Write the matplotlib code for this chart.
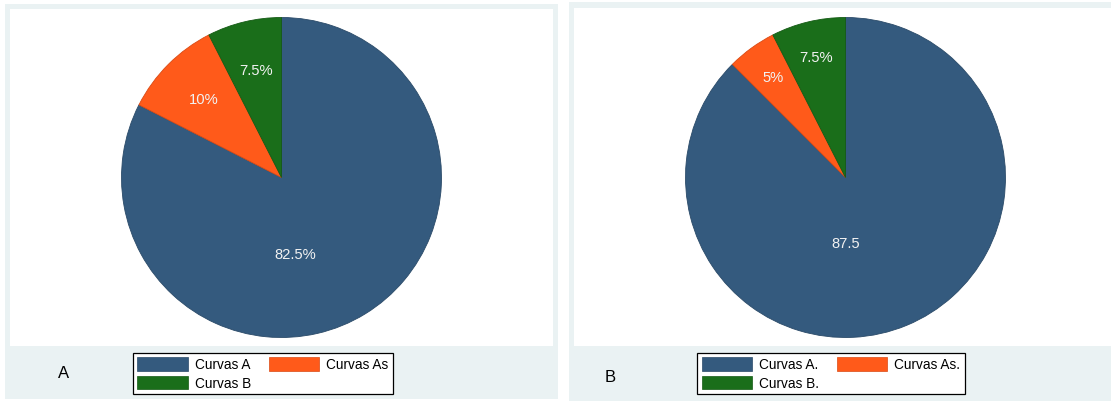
import numpy as np
import matplotlib
matplotlib.use("Agg")
import matplotlib.pyplot as plt
from matplotlib.patches import Rectangle, Patch

plt.rcParams['font.family'] = ['Liberation Sans', 'DejaVu Sans']

# ---- data ----
categories_A = ["Curvas A", "Curvas As", "Curvas B"]
values_A = [82.5, 10, 7.5]
slice_labels_A = ["82.5%", "10%", "7.5%"]

categories_B = ["Curvas A.", "Curvas As.", "Curvas B."]
values_B = [87.5, 5, 7.5]
slice_labels_B = ["87.5", "5%", "7.5%"]

panel_titles = ["A", "B"]

colors = ["#345a7e", "#ff5a1a", "#1a6e1a"]
edge_colors = ["#2a4a68", "#d94a14", "#145a14"]
BG = "#eaf2f3"

W, H = 1111, 402
fig = plt.figure(figsize=(W / 100, H / 100), dpi=100)
fig.patch.set_facecolor("white")


def px_rect(x0, y0, x1, y1, color):
    # pixel coords with y measured from top
    fig.patches.append(Rectangle((x0 / W, 1 - y1 / H), (x1 - x0) / W, (y1 - y0) / H,
                                 transform=fig.transFigure, facecolor=color,
                                 edgecolor="none", zorder=-10))


# panel backgrounds
px_rect(5, 5, 558, 400, BG)
px_rect(10, 10, 553, 347, "white")
px_rect(569, 3, 1111, 402, BG)
px_rect(574, 9, 1111, 347, "white")

R_PX = 160.0
SIDE = 330.0
LIM = SIDE / (2 * R_PX)


def make_pie(cx, cy, values, labels, dist, big_pos):
    ax = fig.add_axes([(cx - SIDE / 2) / W, 1 - (cy + SIDE / 2) / H, SIDE / W, SIDE / H],
                      zorder=5)
    ax.patch.set_visible(False)
    wedges, _ = ax.pie(values, colors=colors, startangle=90, counterclock=False,
                       radius=1.0, wedgeprops=dict(linewidth=0.6))
    for w, ec in zip(wedges, edge_colors):
        w.set_edgecolor(ec)
    ax.set_xlim(-LIM, LIM)
    ax.set_ylim(-LIM, LIM)
    ax.set_aspect("equal")
    ax.axis("off")
    for i, (w, lab) in enumerate(zip(wedges, labels)):
        if i == 0:
            x, y = big_pos
        else:
            ang = np.deg2rad((w.theta1 + w.theta2) / 2)
            x, y = dist * np.cos(ang), dist * np.sin(ang)
        ax.text(x, y, lab, ha="center", va="center", color="#f2f2f2", fontsize=10.6)
    return ax


make_pie(281.5, 178.5, values_A, slice_labels_A, 0.69, (0.088, -0.48))
make_pie(845.5, 178.5, values_B, slice_labels_B, 0.775, (0.0, -0.41))


def make_legend(cats, cx, cy):
    handles = [Patch(facecolor=c, edgecolor=ec, linewidth=0.5) for c, ec in zip(colors, edge_colors)]
    order = [0, 2, 1]  # row-wise filling: A, As / B
    leg = fig.legend([handles[i] for i in order], [cats[i] for i in order],
                     ncol=2, loc="center",
                     bbox_to_anchor=(cx / W, 1 - cy / H),
                     fontsize=9.8, handlelength=3.7, handleheight=1.15,
                     handletextpad=0.55, columnspacing=1.25, labelspacing=0.3,
                     borderpad=0.32, fancybox=False, framealpha=1)
    leg.get_frame().set_edgecolor("black")
    leg.get_frame().set_linewidth(0.9)
    leg.set_zorder(6)
    return leg


make_legend(categories_A, 263, 374.5)
make_legend(categories_B, 831, 374.5)

fig.text(64 / W, 1 - 374 / H, panel_titles[0], ha="center", va="center", fontsize=12)
fig.text(610 / W, 1 - 378 / H, panel_titles[1], ha="center", va="center", fontsize=12)

fig.savefig("out.png", dpi=100, facecolor="white")
